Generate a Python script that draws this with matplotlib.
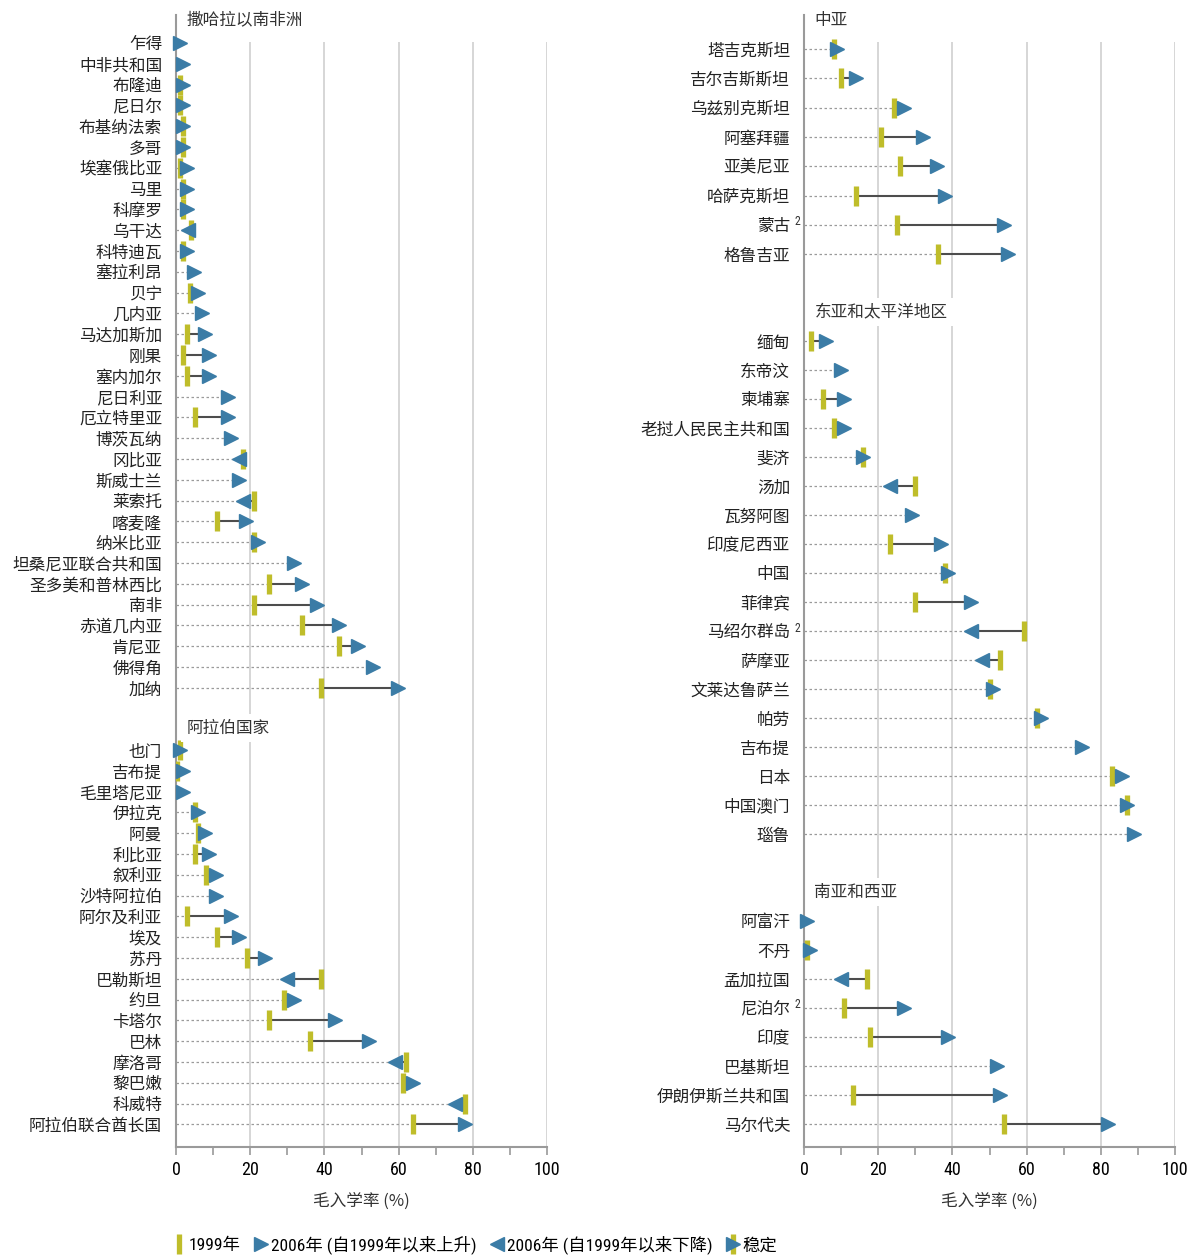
import numpy as np
import matplotlib.pyplot as plt
from matplotlib.lines import Line2D
from matplotlib import font_manager

plt.rcParams['font.family'] = ['Noto Sans CJK SC', 'DejaVu Sans']

nan = np.nan

# 撒哈拉以南非洲
ssa_names = ['乍得', '中非共和国', '布隆迪', '尼日尔', '布基纳法索', '多哥', '埃塞俄比亚', '马里',
             '科摩罗', '乌干达', '科特迪瓦', '塞拉利昂', '贝宁', '几内亚', '马达加斯加', '刚果',
             '塞内加尔', '尼日利亚', '厄立特里亚', '博茨瓦纳', '冈比亚', '斯威士兰', '莱索托', '喀麦隆',
             '纳米比亚', '坦桑尼亚联合共和国', '圣多美和普林西比', '南非', '赤道几内亚', '肯尼亚',
             '佛得角', '加纳']
ssa_1999 = [nan, nan, 1, 1, 2, 2, 1, 2, 2, 4.1, 2, nan, 3.9, nan, 3, 2,
            3, nan, 5.1, nan, 18.1, nan, 21.1, 11, 21, nan, 25.1, 21, 34, 44, nan, 39.1]
ssa_2006 = [1, 1.9, 1.9, 1.9, 2, 2, 2.9, 2.9, 2.9, 3.1, 2.9, 4.8, 5.9, 6.9, 7.9, 9,
            8.8, 14, 14, 14.9, 17.1, 17, 18.1, 18.9, 22, 31.9, 34, 38, 43.9, 49, 53, 59.9]

# 阿拉伯国家
arab_names = ['也门', '吉布提', '毛里塔尼亚', '伊拉克', '阿曼', '利比亚', '叙利亚', '沙特阿拉伯',
              '阿尔及利亚', '埃及', '苏丹', '巴勒斯坦', '约旦', '卡塔尔', '巴林', '摩洛哥',
              '黎巴嫩', '科威特', '阿拉伯联合酋长国']
arab_1999 = [1, 0.3, nan, 5, 6, 5, 8.1, nan, 3, 11.1, 19.1, 39.1, 29.1, 25.1, 36.1, 61.9,
             61.1, 78, 64]
arab_2006 = [1, 1.9, 1.9, 6, 7.9, 8.8, 10.9, 10.9, 14.9, 17, 24, 30, 31.9, 42.9, 52, 59,
             64, 75.1, 78]

# 中亚
ca_names = ['塔吉克斯坦', '吉尔吉斯斯坦', '乌兹别克斯坦', '阿塞拜疆', '亚美尼亚', '哈萨克斯坦',
            '蒙古', '格鲁吉亚']
ca_1999 = [8, 9.9, 24.2, 20.8, 26, 13.9, 25, 36]
ca_2006 = [8.9, 14, 26.9, 32, 35.9, 37.9, 53.9, 54.9]

# 东亚和太平洋地区
eap_names = ['缅甸', '东帝汶', '柬埔寨', '老挝人民民主共和国', '斐济', '汤加', '瓦努阿图',
             '印度尼西亚', '中国', '菲律宾', '马绍尔群岛', '萨摩亚', '文莱达鲁萨兰', '帕劳',
             '吉布提', '日本', '中国澳门', '瑙鲁']
eap_1999 = [2, nan, 5.1, 8, 16, 30, nan, 23.1, 38, 30, 59.2, 52.9, 50, 62.9, nan, 83, 87, nan]
eap_2006 = [5.9, 9.9, 10.9, 10.8, 16, 23.1, 29, 36.9, 38.9, 44.9, 45, 48, 51, 63.9, 75,
            85.8, 87, 88.9]

# 南亚和西亚
sa_names = ['阿富汗', '不丹', '孟加拉国', '尼泊尔', '印度', '巴基斯坦', '伊朗伊斯兰共和国', '马尔代夫']
sa_1999 = [nan, 0.9, 16.9, 10.9, 17.9, nan, 13.1, 54]
sa_2006 = [0.8, 1.7, 10.1, 26.9, 38.9, 51.9, 52.9, 82]

footnoted = ['蒙古', '马绍尔群岛', '尼泊尔']

YELLOW = '#bfbd2a'
BLUE = '#3b7ca6'
GRID = '#cfcfcf'
AXC = '#9a9a9a'

# 数字用窄体字（如有）
avail = {f.name for f in font_manager.fontManager.ttflist}
narrow = next((f for f in ['Liberation Sans Narrow', 'DejaVu Sans Condensed', 'Roboto Condensed',
                           'Open Sans Condensed', 'Noto Sans Condensed'] if f in avail), None)
NUMFONT = [narrow, 'DejaVu Sans'] if narrow else ['DejaVu Sans']
numsize = 13 if narrow else 11

fig = plt.figure(figsize=(11.89, 12.56), dpi=100)
W, H = 1189, 1256
ax_bottom, ax_top = 1147, 15


def make_axes(x0, x1):
    ax = fig.add_axes([x0 / W, 1 - ax_bottom / H, (x1 - x0) / W, (ax_bottom - ax_top) / H])
    ax.set_xlim(0, 100)
    ax.set_ylim(ax_bottom, ax_top)
    for s in ['top', 'right']:
        ax.spines[s].set_visible(False)
    for s in ['left', 'bottom']:
        ax.spines[s].set_color(AXC)
        ax.spines[s].set_linewidth(1.5)
    ax.set_xticks([0, 20, 40, 60, 80, 100])
    ax.set_xticks([10, 30, 50, 70, 90], minor=True)
    ax.tick_params(axis='x', which='both', direction='out', length=6, width=1.2, color=AXC,
                   labelsize=numsize, pad=4)
    for lbl in ax.get_xticklabels():
        lbl.set_fontfamily(NUMFONT)
    ax.vlines([20, 40, 60, 80, 100], 42, ax_bottom, color=GRID, lw=1.2, zorder=0)
    ax.set_xlabel('毛入学率 (%)', fontsize=12, labelpad=10, color='#333333')
    return ax


def draw_section(ax, title, names, v99, v06, header_y, first_y, step, boxed):
    ys = first_y + step * np.arange(len(names))
    ax.text(2.8, header_y, title, fontsize=12, va='center', ha='left', color='#333333',
            zorder=5,
            bbox=dict(boxstyle='square,pad=0.35', fc='white', ec='none') if boxed else None)
    for y, name, a, b in zip(ys, names, v99, v06):
        low = b if np.isnan(a) else min(a, b)
        ax.plot([0, low], [y, y], color='#9a9a9a', lw=0.9, ls=(0, (2, 2)), zorder=1)
        if not np.isnan(a):
            ax.plot([a, b], [y, y], color='#4d4d4d', lw=1.5, zorder=2)
            ax.plot(a, y, marker='|', ms=14, mew=3.8, color=YELLOW, ls='none', zorder=3)
        mk = '<' if (not np.isnan(a) and b < a) else '>'
        ax.plot(b, y, marker=mk, ms=10, color=BLUE, mec=BLUE, ls='none', zorder=4,
                clip_on=False)
        if name in footnoted:
            ax.text(-1.7, y - 3, '2', fontsize=8.5, ha='center', va='center',
                    fontfamily=NUMFONT, color='#333333')
    return list(ys), names


def set_labels(ax, ys, names):
    ax.set_yticks(ys)
    ax.set_yticklabels(names, fontsize=12, color='#222222')
    ax.tick_params(axis='y', length=0, pad=10)


axl = make_axes(176, 547)
y1, n1 = draw_section(axl, '撒哈拉以南非洲', ssa_names, ssa_1999, ssa_2006, 20, 43, 20.8, False)
y2, n2 = draw_section(axl, '阿拉伯国家', arab_names, arab_1999, arab_2006, 728, 750, 20.8, True)
set_labels(axl, y1 + y2, n1 + n2)

axr = make_axes(804, 1175)
y3, n3 = draw_section(axr, '中亚', ca_names, ca_1999, ca_2006, 20, 49, 29.3, False)
y4, n4 = draw_section(axr, '东亚和太平洋地区', eap_names, eap_1999, eap_2006, 312, 341, 29.0, True)
y5, n5 = draw_section(axr, '南亚和西亚', sa_names, sa_1999, sa_2006, 892, 921, 29.0, True)
set_labels(axr, y3 + y4 + y5, n3 + n4 + n5)

# 图例
h99 = Line2D([], [], marker='|', ms=14, mew=3.8, color=YELLOW, ls='none')
hup = Line2D([], [], marker='>', ms=10, color=BLUE, ls='none')
hdown = Line2D([], [], marker='<', ms=10, color=BLUE, ls='none')
hst = (Line2D([], [], marker='|', ms=14, mew=3.8, color=YELLOW, ls='none'),
       Line2D([], [], marker='>', ms=10, color=BLUE, ls='none'))
leg = fig.legend([h99, hup, hdown, hst],
                 ['1999年', '2006年 (自1999年以来上升)', '2006年 (自1999年以来下降)', '稳定'],
                 loc='center left', bbox_to_anchor=(0.133, 0.009), ncol=4, frameon=False,
                 handlelength=0.6, handletextpad=0.25, columnspacing=0.9,
                 prop={'family': NUMFONT[:-1] + ['Noto Sans CJK SC'], 'size': 12.5})

fig.savefig('out.png', dpi=100)
